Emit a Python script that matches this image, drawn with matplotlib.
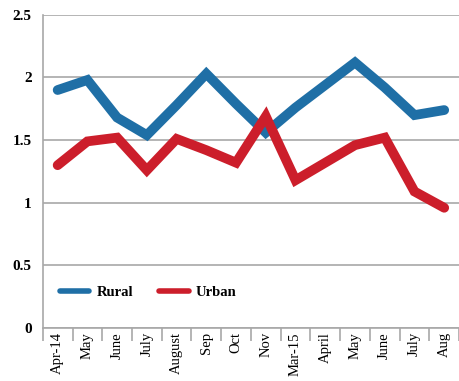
import matplotlib
matplotlib.use("Agg")
import matplotlib.pyplot as plt
import numpy as np

# months on the x axis
months = ["Apr-14", "May", "June", "July", "August", "Sep", "Oct", "Nov",
          "Mar-15", "April", "May", "June", "July", "Aug"]

# values
rural = [1.90, 1.98, 1.68, 1.54, 1.78, 2.03, 1.79, 1.56, 1.76, 1.94, 2.12, 1.92, 1.70, 1.74]
urban = [1.30, 1.49, 1.52, 1.26, 1.51, 1.42, 1.32, 1.69, 1.18, 1.32, 1.46, 1.52, 1.09, 0.96]

yticks = [0, 0.5, 1, 1.5, 2, 2.5]
ytick_labels = ["0", "0.5", "1", "1.5", "2", "2.5"]

blue = "#1f6fa6"
red = "#cc1e2b"
grey = "#a8a8a8"

fig = plt.figure(figsize=(4.6, 3.81), dpi=100)
ax = fig.add_axes([0.093, 0.139, 0.905, 0.822])

x = np.arange(len(months))
ax.plot(x, rural, color=blue, lw=7, solid_joinstyle="miter", solid_capstyle="round", label="Rural")
ax.plot(x, urban, color=red, lw=7, solid_joinstyle="miter", solid_capstyle="round", label="Urban")

ax.set_xlim(-0.5, len(months) - 0.5)
ax.set_ylim(0, 2.5)
ax.set_yticks(yticks)
ax.set_yticklabels(ytick_labels, fontfamily="Liberation Serif", fontsize=11, fontweight="bold")
ax.yaxis.grid(True, color=grey, lw=1.2)
ax.set_axisbelow(True)
ax.tick_params(axis="y", length=0, pad=8)

ax.set_xticks(x)
ax.set_xticklabels(months, rotation=90, fontfamily="Liberation Serif", fontsize=10.5)
ax.set_xticks(np.arange(len(months) + 1) - 0.5, minor=True)
ax.tick_params(axis="x", which="major", length=0, pad=3)
ax.tick_params(axis="x", which="minor", length=9, width=1.2, color=grey)

for side in ["top", "right"]:
    ax.spines[side].set_visible(False)
for side in ["left", "bottom"]:
    ax.spines[side].set_color(grey)
    ax.spines[side].set_linewidth(1.2)

leg = ax.legend(loc="center left", bbox_to_anchor=(0.01, 0.115), ncol=2, frameon=False,
                handlelength=2.0, handletextpad=0.5, columnspacing=1.8,
                prop={"family": "Liberation Serif", "size": 10.5, "weight": "bold"})
for line in leg.get_lines():
    line.set_linewidth(4)

fig.savefig("out.png", dpi=100)
